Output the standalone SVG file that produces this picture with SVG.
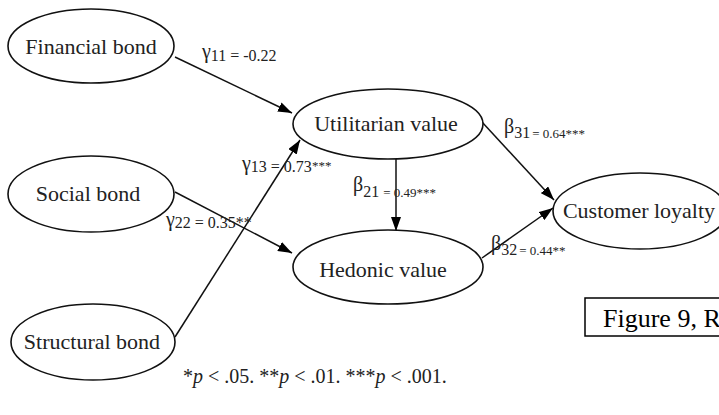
<svg xmlns="http://www.w3.org/2000/svg" width="719" height="415" viewBox="0 0 719 415">
<defs>
<marker id="ah" viewBox="0 0 14 10" refX="14" refY="5" markerWidth="14" markerHeight="10" markerUnits="userSpaceOnUse" orient="auto">
<path d="M0,0 L14,5 L0,10 Z" fill="#000"/>
</marker>
</defs>
<style>
.node ellipse{fill:#fff;stroke:#111;stroke-width:1.6}
.node text{font-family:"Liberation Serif","Times New Roman",serif;font-size:22px;fill:#222;text-anchor:middle}
.edge{stroke:#111;stroke-width:1.5;fill:none;marker-end:url(#ah)}
.lbl{font-family:"Liberation Serif","Times New Roman",serif;fill:#222}
.g{font-size:20px}
.s{font-size:16px}
.t{font-size:13px}
.note{font-family:"Liberation Serif","Times New Roman",serif;font-size:20px;fill:#222}
</style>
<rect width="719" height="415" fill="#fff"/>
<g id="connectors">
<line class="edge" x1="175" y1="57" x2="292" y2="113"/>
<line class="edge" x1="175" y1="337" x2="300" y2="140"/>
<line class="edge" x1="175" y1="192" x2="292" y2="253"/>
<line class="edge" x1="396" y1="159" x2="396" y2="231"/>
<line class="edge" x1="482" y1="122" x2="554" y2="200"/>
<line class="edge" x1="482" y1="258" x2="553" y2="208"/>
</g>
<g id="financial" class="node"><ellipse cx="91" cy="46" rx="83" ry="37"/><text x="91" y="54">Financial bond</text></g>
<g id="utilitarian" class="node"><ellipse cx="388" cy="124" rx="95" ry="35"/><text x="386" y="131">Utilitarian value</text></g>
<g id="social" class="node"><ellipse cx="91" cy="194" rx="83" ry="38"/><text x="88" y="201">Social bond</text></g>
<g id="hedonic" class="node"><ellipse cx="388" cy="267" rx="95" ry="37"/><text x="383" y="277">Hedonic value</text></g>
<g id="customer" class="node"><ellipse cx="640" cy="211" rx="87" ry="38"/><text x="639" y="218">Customer loyalty</text></g>
<g id="structural" class="node"><ellipse cx="93" cy="342" rx="82" ry="38"/><text x="92" y="349">Structural bond</text></g>
<g id="labels">
<text class="lbl g" x="202" y="58">γ<tspan class="s" dy="3">11 = -0.22</tspan></text>
<text class="lbl g" x="242" y="170">γ<tspan class="s" dy="2">13 = 0.73</tspan><tspan class="t" dy="-2">***</tspan></text>
<text class="lbl g" x="166" y="226">γ<tspan class="s" dy="2">22 = 0.35**</tspan></text>
<text class="lbl g" x="353" y="191">β<tspan class="s" dy="6">21</tspan><tspan class="t" dx="4">= 0.49***</tspan></text>
<text class="lbl g" x="504" y="133">β<tspan class="s" dy="5">31</tspan><tspan class="t" dx="2">= 0.64***</tspan></text>
<text class="lbl g" x="491" y="250">β<tspan class="s" dy="5">32</tspan><tspan class="t" dx="2">= 0.44**</tspan></text>
</g>
<text class="note" x="183" y="383">*<tspan font-style="italic">p</tspan> &lt; .05. **<tspan font-style="italic">p</tspan> &lt; .01. ***<tspan font-style="italic">p</tspan> &lt; .001.</text>
<g id="caption">
<rect x="585" y="298" width="150" height="38" fill="#fff" stroke="#000" stroke-width="1.5"/>
<text x="603" y="327" font-family="Liberation Serif,Times New Roman,serif" font-size="26" fill="#000">Figure 9, R</text>
</g>
</svg>
